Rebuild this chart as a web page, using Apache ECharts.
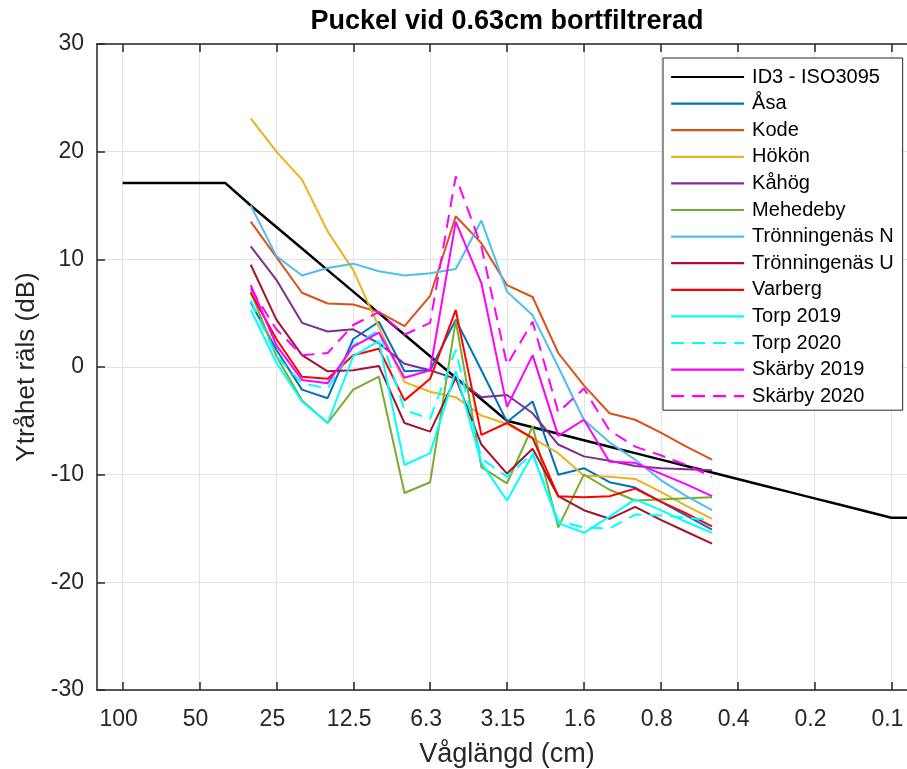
<!DOCTYPE html>
<html>
<head>
<meta charset="utf-8">
<script src="https://cdn.jsdelivr.net/npm/echarts@6/dist/echarts.min.js"></script>
<style>html,body{margin:0;padding:0;background:#fff}#c{width:907px;height:769px}</style>
</head>
<body>
<div id="c"></div>
<script>
// Third-octave wavelength bands (cm), axis extent 125 .. 0.08
const bands = ['125','100','80','63','50','40','31.5','25','20','16','12.5','10','8','6.3','5','4','3.15','2.5','2','1.6','1.25','1','0.8','0.63','0.5','0.4','0.315','0.25','0.2','0.16','0.125','0.1','0.08'];
const tickLabels = ['100','50','25','12.5','6.3','3.15','1.6','0.8','0.4','0.2','0.1'];

// ISO 3095 limit
const id3Bands = ['100','80','63','50','40','31.5','25','20','16','12.5','10','8','6.3','5','4','3.15','2.5','2','1.6','1.25','1','0.8','0.63','0.5','0.4','0.315','0.25','0.2','0.16','0.125','0.1','0.08'];
const id3Values = [17.1,17.1,17.1,17.1,17.1,15.0,13.0,11.0,9.0,7.0,5.0,3.0,1.0,-1.0,-3.0,-5.0,-5.6,-6.2,-6.8,-7.4,-8.0,-8.6,-9.2,-9.8,-10.4,-11.0,-11.6,-12.2,-12.8,-13.4,-14.0,-14.0];

// Measured bands
const measBands = ['31.5','25','20','16','12.5','10','8','6.3','5','4','3.15','2.5','2','1.6','1.25','1','0.8','0.63','0.5'];
const asa        = [6.0, 1.6, -2.1, -2.9, 2.6, 4.2, -0.4, -0.3, 4.4, -0.3, -5.1, -3.2, -10.0, -9.4, -10.7, -11.2, -12.5, -13.8, -15.1];
const kode       = [13.5, 10.2, 6.9, 5.9, 5.8, 5.1, 3.8, 6.6, 14.0, 11.5, 7.6, 6.5, 1.3, -1.7, -4.3, -4.9, -6.1, -7.4, -8.6];
const hokon      = [23.1, 20.0, 17.4, 12.6, 9.0, 3.7, -1.4, -2.3, -2.8, -4.5, -5.3, -6.6, -8.0, -10.1, -10.2, -10.4, -11.6, -12.9, -14.1];
const kahog      = [11.2, 8.1, 4.1, 3.3, 3.5, 2.2, 0.3, -0.3, -1.1, -2.8, -2.6, -4.3, -7.2, -8.3, -8.7, -9.2, -9.4, -9.5, -9.6];
const mehedeby   = [7.0, 1.0, -3.1, -5.2, -2.1, -0.9, -11.7, -10.7, 4.3, -9.3, -10.8, -5.5, -14.9, -10.0, -11.4, -12.4, -12.3, -12.2, -12.1];
const tronN      = [15.0, 10.3, 8.5, 9.2, 9.6, 8.9, 8.5, 8.7, 9.1, 13.6, 7.0, 4.8, 0.0, -4.9, -7.0, -8.6, -10.5, -12.0, -13.3];
const tronU      = [9.5, 4.4, 1.1, -0.4, -0.3, 0.1, -5.2, -6.0, -1.0, -7.2, -9.9, -7.6, -12.0, -13.3, -14.1, -13.0, -14.2, -15.3, -16.4];
const varberg    = [6.9, 2.6, -0.9, -1.1, 1.1, 1.7, -3.1, -1.1, 5.3, -6.3, -5.2, -6.6, -12.0, -12.1, -12.0, -11.3, -12.5, -13.6, -14.8];
const torp2019   = [5.3, 0.4, -3.2, -5.2, 1.0, 2.4, -9.1, -8.0, -0.4, -8.9, -12.4, -8.1, -14.5, -15.4, -13.9, -12.3, -13.3, -14.4, -15.4];
const torp2020   = [6.2, 1.0, -1.5, -2.0, 2.0, 3.4, -4.0, -4.8, 1.6, -8.5, -10.2, -8.0, -14.3, -14.9, -15.0, -13.7, -13.8, -14.0, -14.2];
const skarby2019 = [7.6, 2.0, -1.2, -1.5, 1.9, 3.2, -1.0, -0.3, 13.5, 7.8, -3.7, 1.1, -6.4, -4.9, -8.8, -8.9, -9.9, -10.9, -12.0];
const skarby2020 = [7.3, 3.5, 1.1, 1.3, 3.9, 5.1, 3.0, 4.1, 17.7, 11.2, 0.2, 4.2, -4.2, -2.0, -5.9, -7.4, -8.2, -9.1, -10.2];

const seriesDefs = [
  {name:'Åsa', data:asa, color:'#0072BD'},
  {name:'Kode', data:kode, color:'#D95319'},
  {name:'Hökön', data:hokon, color:'#EDB120'},
  {name:'Kåhög', data:kahog, color:'#7E2F8E'},
  {name:'Mehedeby', data:mehedeby, color:'#77AC30'},
  {name:'Trönningenäs N', data:tronN, color:'#4DBEEE'},
  {name:'Trönningenäs U', data:tronU, color:'#A2142F'},
  {name:'Varberg', data:varberg, color:'#FF0000'},
  {name:'Torp 2019', data:torp2019, color:'#00FFFF'},
  {name:'Torp 2020', data:torp2020, color:'#00FFFF', dashed:true},
  {name:'Skärby 2019', data:skarby2019, color:'#FF00FF'},
  {name:'Skärby 2020', data:skarby2020, color:'#FF00FF', dashed:true}
];

const FONT = '"Liberation Sans", Arial, Helvetica, sans-serif';
const TXT = '#262626';
const isTick = (idx) => tickLabels.indexOf(bands[idx]) >= 0;

const series = [{
  name:'ID3 - ISO3095', type:'line', symbol:'none', xAxisIndex:0,
  data: id3Bands.map((b,i)=>[b, id3Values[i]]),
  lineStyle:{color:'#000', width:2.5}, itemStyle:{color:'#000'}
}].concat(seriesDefs.map(s => ({
  name:s.name, type:'line', symbol:'none', xAxisIndex:0,
  data: measBands.map((b,i)=>[b, s.data[i]]),
  lineStyle:{color:s.color, width:2, type: s.dashed ? [13,8] : 'solid'},
  itemStyle:{color:s.color}
})));

const chart = echarts.init(document.getElementById('c'), null, {renderer:'canvas'});
chart.setOption({
  animation:false,
  backgroundColor:'#fff',
  title:{
    text:'Puckel vid 0.63cm bortfiltrerad',
    left:507, top:8, textAlign:'center', padding:0,
    textStyle:{fontFamily:FONT, fontWeight:'bold', fontSize:27, color:'#000'}
  },
  grid:{left:97, width:820, top:44, bottom:79, containLabel:false, outerBoundsMode:'none'},
  legend:{
    orient:'vertical', left:663, top:58,
    padding:[9,9,4,7],
    backgroundColor:'#fff', borderColor:TXT, borderWidth:1, borderRadius:0,
    itemWidth:73, itemHeight:20, itemGap:6.6,
    itemStyle:{opacity:0, borderWidth:0},
    lineStyle:{width:2.2},
    textStyle:{fontFamily:FONT, fontSize:20, color:'#000', padding:[0,0,0,3], lineHeight:20},
    data:['ID3 - ISO3095'].concat(seriesDefs.map(s=>s.name))
  },
  xAxis:[{
    type:'category', data:bands, boundaryGap:false,
    name:'Våglängd (cm)', nameLocation:'middle', nameGap:51,
    nameTextStyle:{fontFamily:FONT, fontSize:27, color:TXT},
    axisLine:{show:true, onZero:false, lineStyle:{color:TXT, width:1.5}},
    axisTick:{show:true, inside:true, length:8, interval:(i)=>isTick(i), lineStyle:{color:TXT, width:1.5}},
    axisLabel:{interval:(i)=>isTick(i), fontFamily:FONT, fontSize:23, color:TXT, margin:18, padding:[0,8,0,0]},
    splitLine:{show:true, interval:(i)=>isTick(i), lineStyle:{color:'#e3e3e3', width:1}}
  },{
    type:'category', data:bands, boundaryGap:false, position:'top',
    axisLine:{show:true, onZero:false, lineStyle:{color:TXT, width:1.5}},
    axisTick:{show:true, inside:true, length:8, interval:(i)=>isTick(i), lineStyle:{color:TXT, width:1.5}},
    axisLabel:{show:false}, splitLine:{show:false}
  }],
  yAxis:{
    type:'value', min:-30, max:30, interval:10,
    name:'Ytråhet räls (dB)', nameLocation:'middle', nameGap:52,
    nameTextStyle:{fontFamily:FONT, fontSize:26, color:TXT},
    axisLine:{show:true, lineStyle:{color:TXT, width:1.5}},
    axisTick:{show:true, inside:true, length:8, lineStyle:{color:TXT, width:1.5}},
    axisLabel:{fontFamily:FONT, fontSize:23, color:TXT, margin:13},
    splitLine:{show:true, lineStyle:{color:'#e3e3e3', width:1}}
  },
  series: series
});
</script>
</body>
</html>
